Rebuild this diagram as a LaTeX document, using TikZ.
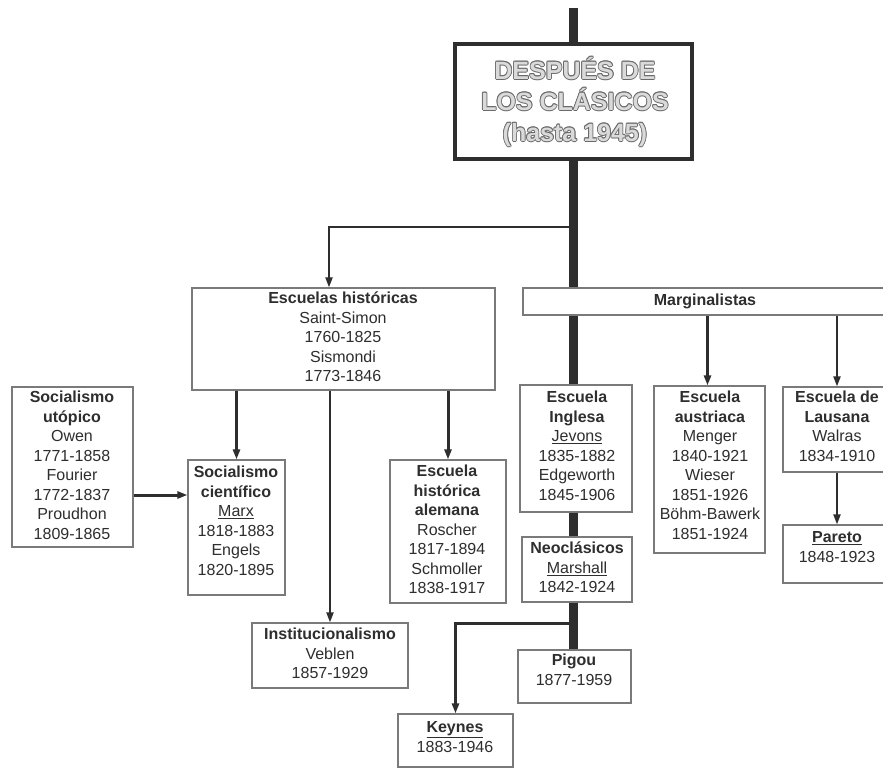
\documentclass[tikz,border=0pt]{standalone}
\usepackage{fontspec}
\setmainfont{Liberation Sans}
\usetikzlibrary{arrows.meta}
\definecolor{ink}{HTML}{2E2E2E}
\definecolor{edge}{HTML}{7A7A7A}
\definecolor{tdark}{HTML}{6A6A6A}
\definecolor{tlight}{HTML}{DADADA}
\newcommand\fl{\rule{0pt}{15pt}}
\newcommand\hollowtxt[1]{\leavevmode
  \rlap{\color{tdark}\kern0.8pt#1}\rlap{\color{tdark}\kern-0.8pt#1}%
  \rlap{\color{tdark}\raisebox{0.8pt}{#1}}\rlap{\color{tdark}\raisebox{-0.8pt}{#1}}%
  \rlap{\color{tdark}\raisebox{0.6pt}{\kern0.6pt#1}}\rlap{\color{tdark}\raisebox{-0.6pt}{\kern0.6pt#1}}%
  \rlap{\color{tdark}\raisebox{0.6pt}{\kern-0.6pt#1}}\rlap{\color{tdark}\raisebox{-0.6pt}{\kern-0.6pt#1}}%
  {\color{tlight}#1}}
\begin{document}
\begin{tikzpicture}[x=1pt,y=-1pt,
  box/.style={draw=edge, line width=1.2pt, fill=white, inner sep=0pt},
  txt/.style={inner sep=0pt, align=center, text=ink, anchor=north,
    font=\fontsize{16}{19.5}\selectfont},
  arr/.style={draw=ink, -{Triangle[width=7pt,length=10pt]}},
  trunk/.style={draw=ink, line width=9pt}]
\useasboundingbox (0,0) rectangle (883,768);
\clip (0,0) rectangle (883,768);
\fill[white] (0,0) rectangle (883,768);

% trunk
\coordinate (ttop) at (573.5,8);
\coordinate (bh) at (573.5,227);
\coordinate (bk) at (573.5,623);
\node[box, minimum width=113pt, minimum height=53pt] (pigou) at (574.5,676.5) {};
\draw[trunk] (ttop) -- (ttop |- pigou.north);

% title
\node[box, draw=ink, line width=4pt, minimum width=237pt, minimum height=115pt] (title) at (573.5,101.5) {};
\node[inner sep=0pt, align=center, anchor=north, font=\fontsize{25}{31}\selectfont\bfseries] (titleT) at (575,55)
  {\rule{0pt}{24pt}\hollowtxt{DESPUÉS DE}\\\hollowtxt{LOS CLÁSICOS}\\\hollowtxt{(hasta 1945)}};

% boxes
\node[box, minimum width=303pt, minimum height=102pt] (hist) at (343.5,339) {};
\node[box, minimum width=372pt, minimum height=27pt] (marg) at (709,301.5) {};
\node[box, minimum width=121pt, minimum height=160pt] (utop) at (72.5,467) {};
\node[box, minimum width=97pt, minimum height=135pt] (cient) at (236.5,527.5) {};
\node[box, minimum width=116pt, minimum height=143pt] (alem) at (448,531.5) {};
\node[box, minimum width=112pt, minimum height=127pt] (ingl) at (576,448.5) {};
\node[box, minimum width=110pt, minimum height=65pt] (neo) at (577,569.5) {};
\node[box, minimum width=156pt, minimum height=65pt] (inst) at (330,655.5) {};
\node[box, minimum width=115pt, minimum height=53pt] (keyn) at (455.5,740.5) {};
\node[box, minimum width=111pt, minimum height=167pt] (aust) at (709.5,469.5) {};
\node[box, minimum width=108pt, minimum height=85pt] (laus) at (837,429.5) {};
\node[box, minimum width=108pt, minimum height=58pt] (pareto) at (837,554) {};

% texts
\node[txt] (histT) at (343,288.7) {\fl\textbf{Escuelas históricas}\\Saint-Simon\\1760-1825\\Sismondi\\1773-1846};
\node[txt] (margT) at (705,290.7) {\fl\textbf{Marginalistas}};
\node[txt] (utopT) at (72,387.7) {\fl\textbf{Socialismo}\\\textbf{utópico}\\Owen\\1771-1858\\Fourier\\1772-1837\\Proudhon\\1809-1865};
\node[txt] (cientT) at (236,462.7) {\fl\textbf{Socialismo}\\\textbf{científico}\\\underline{Marx}\\1818-1883\\Engels\\1820-1895};
\node[txt] (alemT) at (447,461.7) {\fl\textbf{Escuela}\\\textbf{histórica}\\\textbf{alemana}\\Roscher\\1817-1894\\Schmoller\\1838-1917};
\node[txt] (inglT) at (577,387.7) {\fl\textbf{Escuela}\\\textbf{Inglesa}\\\underline{Jevons}\\1835-1882\\Edgeworth\\1845-1906};
\node[txt] (neoT) at (577,538.7) {\fl\textbf{Neoclásicos}\\\underline{Marshall}\\1842-1924};
\node[txt] (instT) at (330,624.7) {\fl\textbf{Institucionalismo}\\Veblen\\1857-1929};
\node[txt] (keynT) at (455,717.7) {\fl\textbf{\underline{Keynes}}\\1883-1946};
\node[txt] (pigouT) at (574,650.7) {\fl\textbf{Pigou}\\1877-1959};
\node[txt] (austT) at (710,387.7) {\fl\textbf{Escuela}\\\textbf{austriaca}\\Menger\\1840-1921\\Wieser\\1851-1926\\Böhm-Bawerk\\1851-1924};
\node[txt] (lausT) at (837,387.7) {\fl\textbf{Escuela de}\\\textbf{Lausana}\\Walras\\1834-1910};
\node[txt] (paretoT) at (837,527.7) {\fl\textbf{\underline{Pareto}}\\1848-1923};

% connectors
\draw[arr, line width=2pt] (bh) -| ([xshift=-14.5pt]hist.north);
\draw[arr, line width=3pt] (cient.north |- hist.south) -- (cient.north);
\draw[arr, line width=2pt] (inst.north |- hist.south) -- (inst.north);
\draw[arr, line width=3pt] (alem.north |- hist.south) -- (alem.north);
\draw[arr, line width=3pt] ([yshift=-28pt]utop.east) -- ([yshift=-28pt]utop.east -| cient.west);
\draw[arr, line width=3pt] ([xshift=-2pt]aust.north |- marg.south) -- ([xshift=-2pt]aust.north);
\draw[arr, line width=2pt] (laus.north |- marg.south) -- (laus.north);
\draw[arr, line width=2pt] (laus.south) -- (pareto.north);
\draw[arr, line width=3pt] (bk) -| (keyn.north);
\end{tikzpicture}
\end{document}
